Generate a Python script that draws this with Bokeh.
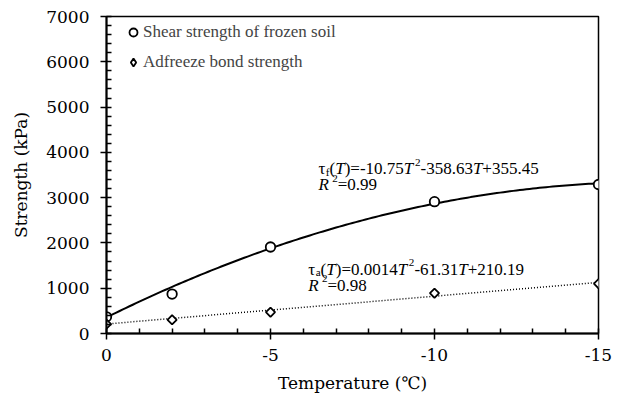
import numpy as np
from bokeh.plotting import figure
from bokeh.models import Range1d, FixedTicker, Legend, LegendItem, ColumnDataSource
from bokeh.core.properties import value
from bokeh.embed import file_html
from bokeh.resources import INLINE

# ---------------- data ----------------
temperature = [0, -2, -5, -10, -15]
shear_strength = [368, 870, 1910, 2910, 3290]
adfreeze_strength = [207, 302, 470, 890, 1100]
shear_fit = [-10.75, -358.63, 355.45]       # tau_f(T) coefficients (T^2, T, 1)
adfreeze_fit = [0.0014, -61.31, 210.19]     # tau_a(T) coefficients
x_ticks = [0, -5, -10, -15]
x_tick_labels = ["0", "-5", "-10", "-15"]
x_minor = list(range(-15, 1))
y_ticks = [0, 1000, 2000, 3000, 4000, 5000, 6000, 7000]
y_minor = list(range(0, 7001, 200))
legend_labels = ["Shear strength of frozen soil", "Adfreeze bond strength"]

FONT = "Liberation Serif"
AX_FONT = "DejaVu Serif"

p = figure(width=618, height=400, output_backend="svg", toolbar_location=None,
           x_range=Range1d(0, -15), y_range=Range1d(0, 7000),
           min_border_left=106, min_border_right=20, min_border_top=16,
           min_border_bottom=67)
p.grid.visible = False
p.outline_line_color = "black"
p.outline_line_width = 1.5
p.background_fill_color = "white"
p.border_fill_color = "white"

p.axis.axis_line_color = "black"
p.axis.axis_line_width = 2
p.axis.major_tick_line_color = "black"
p.axis.major_tick_line_width = 1.5
p.axis.minor_tick_line_color = "black"
p.axis.minor_tick_line_width = 1.5
p.axis.major_tick_in = 0
p.axis.major_tick_out = 6
p.axis.minor_tick_in = 5
p.axis.minor_tick_out = 0
p.axis.major_label_text_font = AX_FONT
p.axis.major_label_text_font_size = "17px"
p.axis.major_label_text_color = "black"
p.axis.axis_label_text_font = AX_FONT
p.axis.axis_label_text_font_size = "17px"
p.axis.axis_label_text_font_style = "normal"
p.axis.axis_label_text_color = "black"
p.yaxis.major_label_standoff = 11
p.xaxis.major_label_standoff = 9

p.xaxis.ticker = FixedTicker(ticks=x_ticks, minor_ticks=x_minor)
p.xaxis.major_label_overrides = dict(zip(x_ticks, x_tick_labels))
p.yaxis.ticker = FixedTicker(ticks=y_ticks, minor_ticks=y_minor)
p.xaxis.axis_label = "Temperature (℃)"
p.yaxis.axis_label = "Strength (kPa)"
p.xaxis.axis_label_standoff = 9
p.yaxis.axis_label_standoff = 12

# fitted curves
tt = np.linspace(0, -15, 151)
p.line(tt, np.polyval(shear_fit, tt), line_color="black", line_width=2)
p.line(tt, np.polyval(adfreeze_fit, tt), line_color="black", line_width=1.5,
       line_dash="1 2")

r_shear = p.scatter(temperature, shear_strength, marker="circle", size=9.5,
                    fill_color="white", line_color="black", line_width=1.8)
r_adf = p.scatter(temperature, adfreeze_strength, marker="square", angle=np.pi / 4,
                  size=6.5, fill_color="white", line_color="black", line_width=1.8)
# legend-only glyph (Legend does not rotate markers); hidden on the plot
r_adf_leg = p.scatter(temperature, adfreeze_strength, marker="diamond", size=10,
                      fill_color="white", line_color="black", line_width=1.8,
                      visible=False)

legend = Legend(items=[LegendItem(label=legend_labels[0], renderers=[r_shear]),
                       LegendItem(label=legend_labels[1], renderers=[r_adf_leg])],
                location=(17, 256), orientation="vertical",
                glyph_width=20, glyph_height=30, label_height=30, spacing=0,
                padding=0, margin=0, label_standoff=0,
                label_text_font=FONT, label_text_font_size="17px",
                border_line_color=None, background_fill_alpha=0,
                inactive_fill_alpha=0)
p.add_layout(legend)

# ---------------- equation annotations (rich text pieces) ----------------
W = {'0': .5, '1': .5, '2': .5, '3': .5, '4': .5, '5': .5, '6': .5, '7': .5,
     '8': .5, '9': .5, '.': .25, '-': .333, '+': .564, '=': .564, '(': .333,
     ')': .333, 'τ': .44, 'f': .333, 'a': .444, 'T': .556, 'R': .611}
SUP_GAP = {'T': 0.1, 'R': 0.2}
FS = 17


def layout(segments, x, y, dy_line):
    xs, ys, xo, yo, txt, size, style = [], [], [], [], [], [], []
    off = 0.0
    for i, (t, kind) in enumerate(segments):
        if kind in ("sub", "sup"):
            fs = FS * 0.65
            shift = FS * 0.18 if kind == "sub" else -FS * 0.38
        else:
            fs = FS
            shift = 0
        xs.append(x); ys.append(y); xo.append(off); yo.append(shift + dy_line)
        txt.append(t); size.append(f"{fs:.1f}px")
        style.append("italic" if kind == "it" else "normal")
        off += sum(W.get(c, .5) for c in t) * fs
        if kind == "it" and i + 1 < len(segments) and segments[i + 1][1] == "sup":
            off += SUP_GAP.get(t, 0.1) * fs
    return dict(x=xs, y=ys, xo=xo, yo=yo, text=txt, size=size, style=style)


def merge(*ds):
    out = {k: [] for k in ds[0]}
    for d in ds:
        for k in d:
            out[k] += d[k]
    return out


eq_f = [("τ", "n"), ("f", "sub"), ("(", "n"), ("T", "it"), (")=-10.75", "n"), ("T", "it"),
        ("2", "sup"), ("-358.63", "n"), ("T", "it"), ("+355.45", "n")]
r2_f = [("R", "it"), ("2", "sup"), ("=0.99", "n")]
eq_a = [("τ", "n"), ("a", "sub"), ("(", "n"), ("T", "it"), (")=0.0014", "n"), ("T", "it"),
        ("2", "sup"), ("-61.31", "n"), ("T", "it"), ("+210.19", "n")]
r2_a = [("R", "it"), ("2", "sup"), ("=0.98", "n")]

ann_f = (-6.46, 3640)
ann_a = (-6.15, 1420)
src = ColumnDataSource(merge(layout(eq_f, *ann_f, 0), layout(r2_f, *ann_f, 16),
                             layout(eq_a, *ann_a, 0), layout(r2_a, *ann_a, 16)))
p.text(x="x", y="y", text="text", x_offset="xo", y_offset="yo", source=src,
       text_font=value(FONT), text_font_size="size", text_font_style="style",
       text_color="black", text_baseline="alphabetic", text_align="left")

open("out.html", "w").write(file_html(p, INLINE))
